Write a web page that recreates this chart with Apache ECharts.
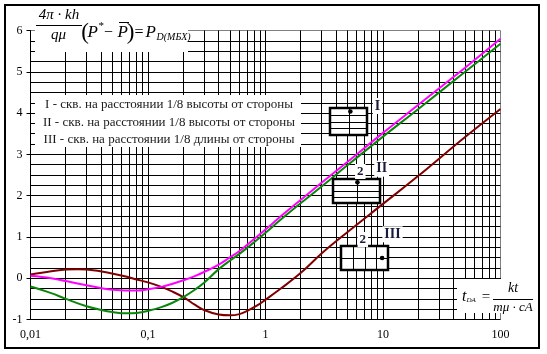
<!DOCTYPE html>
<html>
<head>
<meta charset="utf-8">
<script src="https://cdn.jsdelivr.net/npm/echarts@6/dist/echarts.min.js"></script>
<style>
  html, body { margin: 0; padding: 0; background: #fff; }
  #chart { width: 547px; height: 354px; }
</style>
</head>
<body>
<div id="chart"></div>
<script>
// ---- data ----
const xTickValues = [0.01, 0.1, 1, 10, 100];
const xTickLabels = ['0,01', '0,1', '1', '10', '100'];
const xGridValues = [0.02, 0.03, 0.04, 0.05, 0.06, 0.07, 0.08, 0.09, 0.1,
  0.2, 0.3, 0.4, 0.5, 0.6, 0.7, 0.8, 0.9, 1,
  2, 3, 4, 5, 6, 7, 8, 9, 10,
  20, 30, 40, 50, 60, 70, 80, 90];

// Curve I (magenta)
const curveI = [
  [0.01, 0.06], [0.015, 0.00], [0.02, -0.07], [0.03, -0.17], [0.04, -0.24], [0.05, -0.28],
  [0.065, -0.30], [0.08, -0.30], [0.1, -0.27], [0.13, -0.21], [0.16, -0.14], [0.2, -0.05],
  [0.25, 0.05], [0.3, 0.15], [0.4, 0.33], [0.5, 0.51], [0.6, 0.66], [0.8, 0.95], [1, 1.18],
  [1.35, 1.50], [2, 1.90], [3, 2.31], [5, 2.82], [10, 3.52], [20, 4.20], [50, 5.10], [100, 5.80]
];
// Curve II (green)
const curveII = [
  [0.01, -0.20], [0.015, -0.36], [0.02, -0.50], [0.03, -0.68], [0.04, -0.77], [0.05, -0.82],
  [0.065, -0.85], [0.08, -0.84], [0.1, -0.79], [0.13, -0.70], [0.16, -0.60], [0.2, -0.46],
  [0.25, -0.28], [0.3, -0.11], [0.4, 0.22], [0.5, 0.43], [0.6, 0.59], [0.8, 0.87], [1, 1.10],
  [1.35, 1.42], [2, 1.82], [3, 2.22], [5, 2.74], [10, 3.43], [20, 4.10], [50, 5.00], [100, 5.68]
];
// Curve III (dark red)
const curveIII = [
  [0.01, 0.09], [0.015, 0.17], [0.02, 0.21], [0.025, 0.22], [0.03, 0.21], [0.045, 0.14],
  [0.065, 0.04], [0.08, -0.03], [0.1, -0.10], [0.13, -0.21], [0.16, -0.32], [0.2, -0.46],
  [0.25, -0.64], [0.3, -0.77], [0.4, -0.88], [0.5, -0.90], [0.6, -0.87], [0.7, -0.79],
  [0.85, -0.66], [1, -0.52], [1.35, -0.25], [2, 0.13], [3, 0.60], [5, 1.12], [10, 1.80],
  [20, 2.48], [50, 3.42], [100, 4.10]
];

const legendLines = [
  'I - скв. на расстоянии 1/8 высоты от стороны',
  'II - скв. на расстоянии 1/8 высоты от стороны',
  'III - скв. на расстоянии 1/8 длины от стороны'
];
const curveNames = ['I', 'II', 'III'];
const curveColors = ['#ff00ff', '#0a870a', '#800000'];

// ---- drawing ----
const SERIF = 'Liberation Serif';
const chart = echarts.init(document.getElementById('chart'), null, { renderer: 'canvas' });

function txt(text, x, y, font, align, vAlign, extra) {
  return Object.assign({
    type: 'text', z: 70, silent: true,
    style: Object.assign({
      text: text, x: x, y: y, font: font, fill: '#000',
      align: align || 'center', textAlign: align || 'center',
      verticalAlign: vAlign || 'middle', textVerticalAlign: vAlign || 'middle'
    }, extra || {})
  });
}
function hline(x1, x2, y, w) {
  return { type: 'line', z: 70, silent: true, shape: { x1: x1, y1: y, x2: x2, y2: y }, style: { stroke: '#000', lineWidth: w || 1 } };
}
function whiteRect(x, y, w, h) {
  return { type: 'rect', z: 50, silent: true, shape: { x: x, y: y, width: w, height: h }, style: { fill: '#fff', stroke: null } };
}
function wellBox(x, y, w, h, rows, cols, fx, fy) {
  const els = [];
  els.push({ type: 'rect', z: 60, silent: true, shape: { x: x, y: y, width: w, height: h }, style: { fill: '#fff', stroke: '#000', lineWidth: 2.5 } });
  for (let r = 1; r < rows; r++) {
    const yy = Math.round(y + h * r / rows) + 0.5;
    els.push({ type: 'line', z: 61, silent: true, shape: { x1: x, y1: yy, x2: x + w, y2: yy }, style: { stroke: '#000', lineWidth: 1 } });
  }
  for (let c = 1; c < cols; c++) {
    const xx = Math.round(x + w * c / cols) + 0.5;
    els.push({ type: 'line', z: 61, silent: true, shape: { x1: xx, y1: y, x2: xx, y2: y + h }, style: { stroke: '#000', lineWidth: 1 } });
  }
  els.push({ type: 'circle', z: 62, silent: true, shape: { cx: x + w * fx, cy: y + h * fy, r: 2.3 }, style: { fill: '#000' } });
  return els;
}
const LBL = { backgroundColor: '#fff', padding: [1, 2], fill: '#1a1a3a' };

const graphics = [].concat(
  [
    // outer frame
    { type: 'rect', z: 100, silent: true, shape: { x: 5, y: 5, width: 534, height: 343 }, style: { fill: 'none', stroke: '#000', lineWidth: 2 } },
    // top formula
    whiteRect(35, 7, 153, 45),
    txt('4π · kh', 59, 15.5, 'italic 15px ' + SERIF),
    hline(36, 82, 25.5),
    txt('qμ', 58.5, 35.5, 'italic 15px ' + SERIF),
    txt('(', 85, 32.5, '23px ' + SERIF),
    txt('P', 87.5, 33, 'italic 17px ' + SERIF, 'left'),
    txt('*', 98.5, 26, '11px ' + SERIF, 'left'),
    txt('−', 108.5, 33, '16px ' + SERIF),
    txt('P', 117.5, 33, 'italic 17px ' + SERIF, 'left'),
    hline(119, 129, 22.5),
    txt(')', 130.5, 32.5, '23px ' + SERIF),
    txt('=', 139, 33, '16px ' + SERIF),
    txt('P', 145.5, 33, 'italic 17px ' + SERIF, 'left'),
    txt('D(МБХ)', 156.5, 37.5, 'italic 10px ' + SERIF, 'left'),
    // legend text
    whiteRect(35, 95, 266, 52),
    txt(legendLines[0], 169, 105, '13px ' + SERIF, 'center', 'middle', { fill: '#1a1a1a' }),
    txt(legendLines[1], 169, 122.5, '13px ' + SERIF, 'center', 'middle', { fill: '#1a1a1a' }),
    txt(legendLines[2], 169, 140, '13px ' + SERIF, 'center', 'middle', { fill: '#1a1a1a' }),
    // bottom formula
    whiteRect(457, 279, 79, 34),
    txt('t', 462, 297, 'italic 16px ' + SERIF, 'left'),
    txt('DA', 466.5, 300.5, 'italic 7px ' + SERIF, 'left'),
    txt('=', 486, 297, '15px ' + SERIF),
    txt('kt', 513, 288, 'italic 14px ' + SERIF),
    hline(493, 533, 299.5),
    txt('mμ · cA', 513, 307.5, 'italic 13px ' + SERIF)
  ],
  wellBox(330, 108, 37, 27, 4, 2, 0.55, 0.13),
  wellBox(333, 179, 47, 24, 4, 2, 0.52, 0.14),
  wellBox(341, 246, 47, 24, 2, 4, 0.875, 0.5),
  [
    txt(curveNames[0], 377.5, 106, 'bold 14px ' + SERIF, 'center', 'middle', LBL),
    txt('2', 360.3, 171.5, 'bold 13px ' + SERIF, 'center', 'middle', LBL),
    txt(curveNames[1], 381.7, 168.7, 'bold 14px ' + SERIF, 'center', 'middle', LBL),
    txt('2', 362.8, 239.5, 'bold 13px ' + SERIF, 'center', 'middle', LBL),
    txt(curveNames[2], 392.5, 234.3, 'bold 14px ' + SERIF, 'center', 'middle', LBL)
  ]
);

function xLabel(v) {
  let best = 0, bd = Infinity;
  for (let i = 0; i < xTickValues.length; i++) {
    const d = Math.abs(Math.log10(v) - Math.log10(xTickValues[i]));
    if (d < bd) { bd = d; best = i; }
  }
  return bd < 0.01 ? xTickLabels[best] : '';
}

const option = {
  animation: false,
  backgroundColor: '#fff',
  textStyle: { fontFamily: SERIF },
  grid: { left: 30.5, right: 46.5, top: 30.5, bottom: 34.5, show: true, borderColor: '#808080', borderWidth: 1, backgroundColor: 'transparent' },
  xAxis: {
    type: 'log', logBase: 10, min: 0.01, max: 100, splitNumber: 4,
    axisLine: { show: true, lineStyle: { color: '#000', width: 1 } },
    axisTick: { show: true, length: 4, lineStyle: { color: '#000' } },
    axisLabel: { color: '#000', fontSize: 12, fontFamily: SERIF, margin: 9, formatter: xLabel },
    splitLine: { show: false }
  },
  yAxis: {
    type: 'value', min: -1, max: 6, interval: 1,
    axisLine: { show: true, lineStyle: { color: '#000', width: 1 } },
    axisTick: { show: true, length: 4, lineStyle: { color: '#000' } },
    axisLabel: { color: '#000', fontSize: 12, fontFamily: SERIF, margin: 8 },
    splitLine: { show: true, showMaxLine: false, lineStyle: { color: '#000', width: 1 } },
    minorTick: { show: false, splitNumber: 4 },
    minorSplitLine: { show: true, lineStyle: { color: '#000', width: 1 } }
  },
  graphic: { elements: graphics },
  series: [
    {
      type: 'custom', silent: true, z: 1,
      data: xGridValues.map(v => [v, 0]),
      encode: { x: 0, y: 1 },
      renderItem: function (params, api) {
        const cs = params.coordSys;
        const x = Math.floor(api.coord([api.value(0), 0])[0]) + 0.5;
        return { type: 'line', shape: { x1: x, y1: cs.y, x2: x, y2: cs.y + cs.height }, style: { stroke: '#000', lineWidth: 1 } };
      }
    },
    { name: curveNames[0], type: 'line', data: curveI, showSymbol: false, symbol: 'none', smooth: 0.4, z: 5, lineStyle: { color: curveColors[0], width: 2 } },
    { name: curveNames[1], type: 'line', data: curveII, showSymbol: false, symbol: 'none', smooth: 0.4, z: 4, lineStyle: { color: curveColors[1], width: 2 } },
    { name: curveNames[2], type: 'line', data: curveIII, showSymbol: false, symbol: 'none', smooth: 0.4, z: 3, lineStyle: { color: curveColors[2], width: 2 } }
  ]
};
chart.setOption(option);
</script>
</body>
</html>
